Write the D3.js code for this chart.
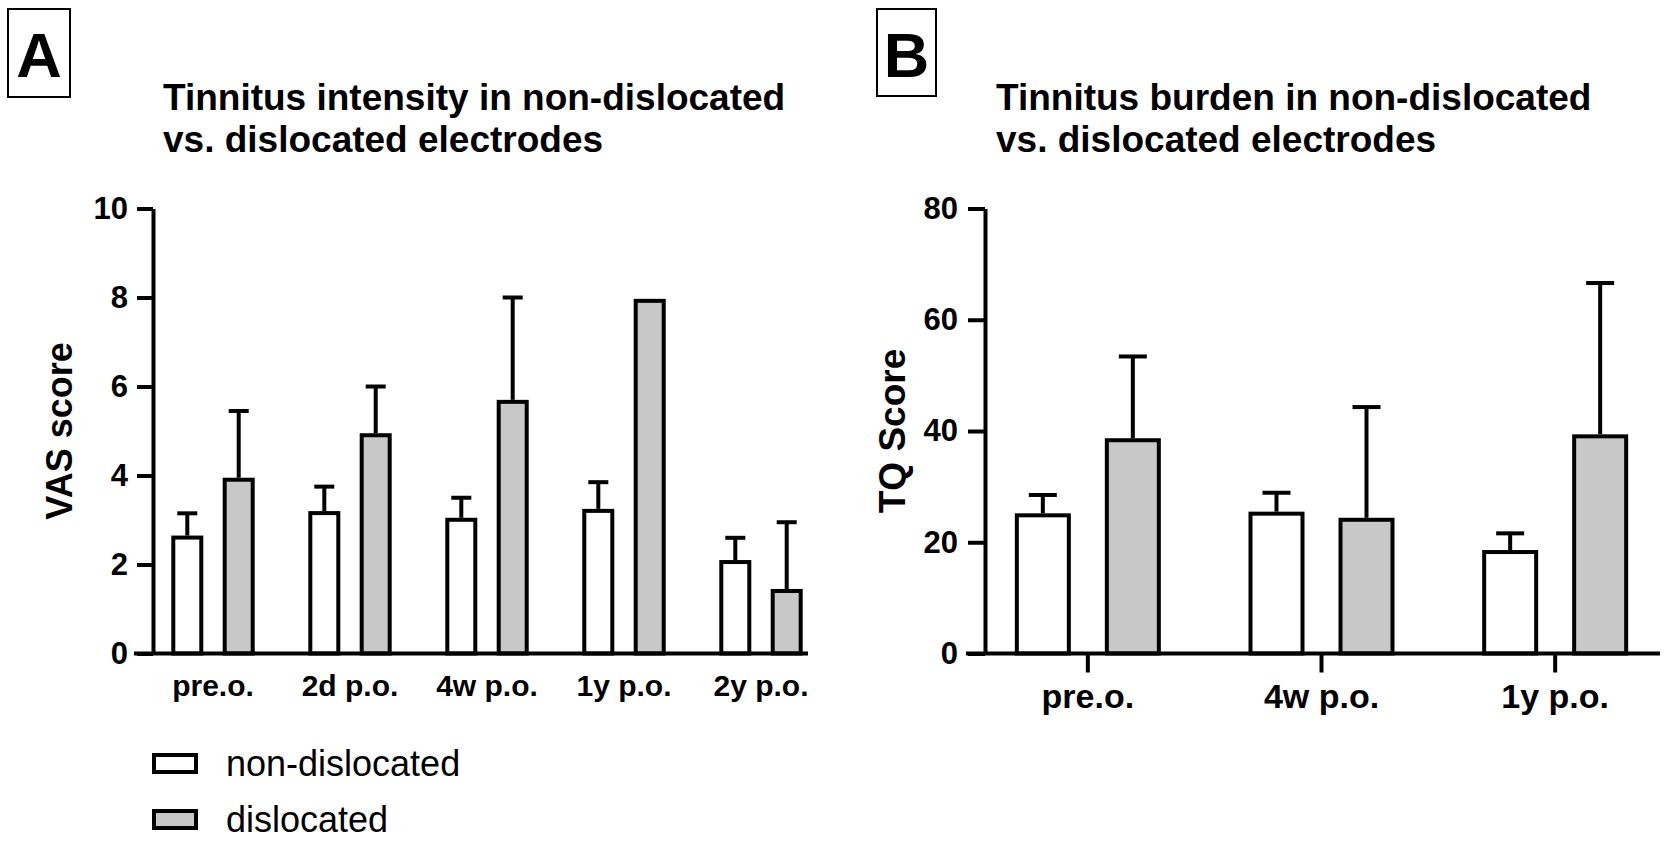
<!DOCTYPE html>
<html>
<head>
<meta charset="utf-8">
<script src="https://cdn.jsdelivr.net/npm/d3@7/dist/d3.min.js"></script>
<style>
  body { margin: 0; background: #fff; }
  text { font-family: "Liberation Sans", Arial, sans-serif; fill: #000; }
</style>
</head>
<body>
<div id="chart"></div>
<script>
// panel A: tinnitus intensity (VAS), mean and upper error
var vasCats = ["pre.o.", "2d p.o.", "4w p.o.", "1y p.o.", "2y p.o."];
var vasNon = [2.65, 3.2, 3.05, 3.25, 2.1];
var vasNonErr = [0.5, 0.55, 0.45, 0.6, 0.5];
var vasDis = [3.95, 4.95, 5.7, 7.97, 1.45];
var vasDisErr = [1.5, 1.05, 2.3, 0, 1.5];
var vasTicks = [0, 2, 4, 6, 8, 10];

// panel B: tinnitus burden (TQ)
var tqCats = ["pre.o.", "4w p.o.", "1y p.o."];
var tqNon = [25.2, 25.5, 18.6];
var tqNonErr = [3.3, 3.4, 3.0];
var tqDis = [38.7, 24.4, 39.4];
var tqDisErr = [14.7, 19.9, 27.2];
var tqTicks = [0, 20, 40, 60, 80];

var groups = ["non-dislocated", "dislocated"];
var fills = ["#ffffff", "#c8c8c8"];

var width = 1666, height = 842;
var svg = d3.select("#chart")
  .append("svg")
    .attr("width", width)
    .attr("height", height);

svg.append("rect").attr("width", width).attr("height", height).attr("fill", "#fff");

function panelLetter(x, y, w, h, letter){
  svg.append("rect")
    .attr("x", x).attr("y", y)
    .attr("width", w).attr("height", h)
    .attr("fill", "none")
    .attr("stroke", "#000")
    .attr("stroke-width", 2);
  svg.append("text")
    .attr("x", x + w / 2)
    .attr("y", y + 68)
    .attr("text-anchor", "middle")
    .style("font-size", "63px")
    .style("font-weight", "bold")
    .text(letter);
}

function make_panel(p){
  var y = d3.scaleLinear()
    .domain([0, p.yMax])
    .range([653.5, 208.5]);

  var x = d3.scaleBand()
    .domain(p.cats)
    .range(p.xRange)
    .padding(0);

  // position of the two bars inside a group
  var sub = d3.scalePoint()
    .domain(groups)
    .range([-p.offset, p.offset]);

  var rows = [];
  p.cats.forEach(function(c, i){
    rows.push({cat: c, g: groups[0], v: p.non[i], e: p.nonErr[i]});
    rows.push({cat: c, g: groups[1], v: p.dis[i], e: p.disErr[i]});
  });

  function cx(d){ return x(d.cat) + x.bandwidth() / 2 + sub(d.g); }

  // error bars (upper only)
  var eb = svg.append("g");
  eb.selectAll("line.stem")
    .data(rows.filter(function(d){ return d.e > 0; }))
    .enter().append("line")
      .attr("x1", cx).attr("x2", cx)
      .attr("y1", function(d){ return y(d.v); })
      .attr("y2", function(d){ return y(d.v + d.e); })
      .attr("stroke", "#000")
      .attr("stroke-width", 4);
  eb.selectAll("line.cap")
    .data(rows.filter(function(d){ return d.e > 0; }))
    .enter().append("line")
      .attr("x1", function(d){ return cx(d) - p.capW / 2; })
      .attr("x2", function(d){ return cx(d) + p.capW / 2; })
      .attr("y1", function(d){ return y(d.v + d.e); })
      .attr("y2", function(d){ return y(d.v + d.e); })
      .attr("stroke", "#000")
      .attr("stroke-width", 4);

  // bars
  svg.append("g").selectAll("rect")
    .data(rows)
    .enter().append("rect")
      .attr("x", function(d){ return cx(d) - p.barW / 2; })
      .attr("y", function(d){ return y(d.v) + 2; })
      .attr("width", p.barW)
      .attr("height", function(d){ return y(0) - y(d.v) - 2; })
      .attr("fill", function(d){ return fills[groups.indexOf(d.g)]; })
      .attr("stroke", "#000")
      .attr("stroke-width", 4);

  // x axis
  var xg = svg.append("g")
    .attr("transform", "translate(0," + y(0) + ")")
    .call(d3.axisBottom(x).tickSize(p.xTick).tickPadding(p.xPad).tickSizeOuter(0));
  xg.select(".domain").remove();
  xg.selectAll(".tick line").attr("stroke-width", 4);
  xg.selectAll("text")
    .style("font-size", p.xFont + "px")
    .style("font-weight", "bold");
  svg.append("line")
    .attr("x1", p.axisX - 19).attr("x2", p.xEnd)
    .attr("y1", y(0)).attr("y2", y(0))
    .attr("stroke", "#000")
    .attr("stroke-width", 4);

  // y axis
  var yg = svg.append("g")
    .attr("transform", "translate(" + p.axisX + ",0)")
    .call(d3.axisLeft(y).tickValues(p.ticks).tickSize(p.yTick).tickPadding(p.yPad).tickSizeOuter(0));
  yg.select(".domain").attr("stroke-width", 4);
  yg.selectAll(".tick line").attr("stroke-width", 4);
  yg.selectAll("text")
    .style("font-size", "31px")
    .style("font-weight", "bold");

  // y label
  svg.append("text")
    .attr("transform", "translate(" + p.yLabelX + ",431) rotate(-90)")
    .attr("text-anchor", "middle")
    .style("font-size", p.yLabelFont + "px")
    .style("font-weight", "bold")
    .text(p.yLabel);

  // title
  var t = svg.append("text")
    .attr("x", p.titleX)
    .attr("y", 110)
    .style("font-size", "37px")
    .style("font-weight", "bold");
  t.append("tspan").attr("x", p.titleX).text(p.title[0]);
  t.append("tspan").attr("x", p.titleX).attr("y", 152).text(p.title[1]);
}

panelLetter(8, 9, 62, 88, "A");
panelLetter(877, 9, 59, 87, "B");

make_panel({
  cats: vasCats, non: vasNon, nonErr: vasNonErr, dis: vasDis, disErr: vasDisErr,
  yMax: 10, ticks: vasTicks,
  axisX: 153, xRange: [144.5, 829.5], xEnd: 808,
  offset: 25.7, barW: 28, capW: 20,
  xTick: 0, xPad: 21, xFont: 30,
  yTick: 16, yPad: 9,
  yLabel: "VAS score", yLabelX: 72, yLabelFont: 36,
  title: ["Tinnitus intensity in non-dislocated", "vs. dislocated electrodes"], titleX: 163
});

make_panel({
  cats: tqCats, non: tqNon, nonErr: tqNonErr, dis: tqDis, disErr: tqDisErr,
  yMax: 80, ticks: tqTicks,
  axisX: 985, xRange: [971, 1672], xEnd: 1660,
  offset: 45, barW: 52, capW: 28,
  xTick: 19, xPad: 11, xFont: 34,
  yTick: 17, yPad: 10,
  yLabel: "TQ Score", yLabelX: 905, yLabelFont: 37,
  title: ["Tinnitus burden in non-dislocated", "vs. dislocated electrodes"], titleX: 996
});

// legend
var legend = svg.append("g");
groups.forEach(function(g, i){
  legend.append("rect")
    .attr("x", 154)
    .attr("y", 755 + i * 56)
    .attr("width", 42)
    .attr("height", 17)
    .attr("fill", fills[i])
    .attr("stroke", "#000")
    .attr("stroke-width", 4);
  legend.append("text")
    .attr("x", 226)
    .attr("y", 776 + i * 56)
    .style("font-size", "36px")
    .text(g);
});
</script>
</body>
</html>
